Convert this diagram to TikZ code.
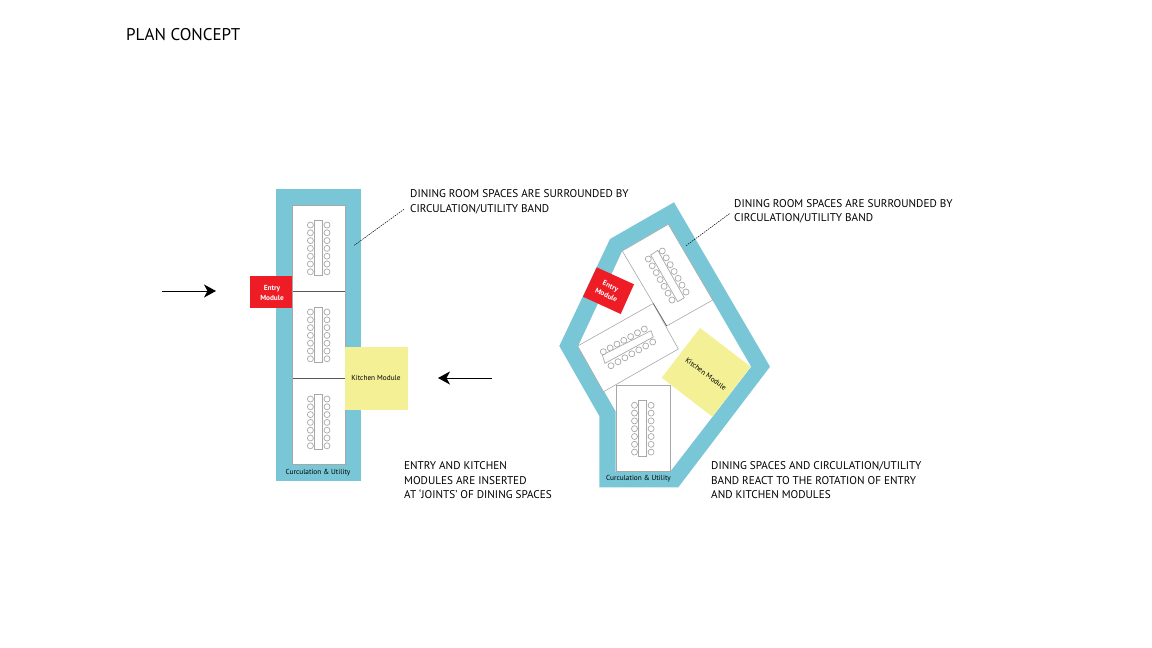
\documentclass[tikz,border=0pt]{standalone}
\usepackage{fontspec}
\setmainfont{PT Sans}
\usetikzlibrary{arrows.meta}
\definecolor{band}{HTML}{79C7D6}
\definecolor{entry}{HTML}{EE1C25}
\definecolor{kitchen}{HTML}{F3F096}
\definecolor{rule}{HTML}{A8A8A8}
\tikzset{
 x=1pt,y=-1pt,
 bandshape/.style={fill=band,draw=none},
 room/.style={draw=rule,line width=0.6pt,fill=white},
 tabletop/.style={draw=rule,line width=0.7pt,fill=white},
 chair/.style={draw=rule,line width=0.7pt,fill=white},
 note/.style={font=\fontsize{11.2}{14.6}\selectfont,align=left,anchor=north west,inner sep=0pt},
 mod/.style={font=\fontsize{7.3}{10}\selectfont,align=center,inner sep=0pt},
 modw/.style={font=\fontsize{7.3}{10}\selectfont\bfseries,align=center,inner sep=0pt,text=white},
 leader/.style={draw=black,line width=0.5pt,dash pattern=on 1.5pt off 1pt},
 flow/.style={draw=black,line width=1pt,-{Stealth[length=12pt,width=13pt,inset=3.5pt]}},
}
\newcommand{\vtable}[3]{% cx, top, bottom
 \draw[tabletop] (#1-4,#2) rectangle (#1+4,#3);
 \foreach \i in {0,...,6}{
  \draw[chair] (#1-8.3,#2+5+\i*7.8) circle (3.0);
  \draw[chair] (#1+8.3,#2+5+\i*7.8) circle (3.0);
 }}
\newcommand{\rowchairs}[4]{% x0,y0,x1,y1
 \foreach \i in {0,...,6}{
  \draw[chair] ({#1+(#3-#1)*\i/6},{#2+(#4-#2)*\i/6}) circle (3.0);
 }}
\begin{document}
\begin{tikzpicture}
\useasboundingbox (0,0) rectangle (1152,648);
\node[inner sep=0pt,anchor=west,font=\fontsize{17}{20}\selectfont] (title) at (126,35) {PLAN CONCEPT};

% left plan
\fill[bandshape] (276,189) rectangle (361,481);
\draw[room] (292.5,205.5) rectangle (345.3,291);
\draw[room] (292.5,291) rectangle (345.3,378.3);
\draw[room] (292.5,378.3) rectangle (345.3,464);
\draw[black!65,line width=0.6pt] (292.5,291) -- (345.3,291) (292.5,378.3) -- (345.3,378.3);
\vtable{318.7}{220}{275.7}
\vtable{318.7}{307}{362.7}
\vtable{318.7}{394}{449.3}
\fill[entry] (250,275.7) rectangle (292.3,307.7);
\node[modw] (e1) at (272,293) {Entry\\Module};
\fill[kitchen] (345,346.7) rectangle (408,409.7);
\node[mod] (k1) at (376,377.5) {Kitchen Module};
\node[mod] (c1) at (318,472.5) {Curculation \& Utility};
\coordinate (l1a) at (354.3,245.3);
\coordinate (l1b) at (404,209.3);
\draw[leader] (l1a) -- (l1b);
\node[note] (n1) at (410,189.5) {DINING ROOM SPACES ARE SURROUNDED BY\\CIRCULATION/UTILITY BAND};
\node[note] (n2) at (404,461.5) {ENTRY AND KITCHEN\\MODULES ARE INSERTED\\AT ‘JOINTS’ OF DINING SPACES};

% arrows
\coordinate (a1) at (162,291); \coordinate (a2) at (216,291);
\coordinate (a3) at (492,378); \coordinate (a4) at (438,378);
\draw[flow] (a1) -- (a2);
\draw[flow] (a3) -- (a4);

% right plan
\fill[bandshape] (674,202.3) -- (610,239) -- (559.3,346) -- (599.3,416) -- (599.3,487.3) -- (678.3,487.3) -- (770,366.7) -- cycle;
\fill[white] (668.3,224.3) -- (622.3,251) -- (578.3,346) -- (615.5,411) -- (615.5,471.7) -- (670,471.7) -- (751,366.7) -- cycle;
\draw[room] (622.3,251) -- (668.3,224.3) -- (712.7,300) -- (666.7,326) -- cycle;
\draw[room] (577.7,346) -- (653.2,303.5) -- (678.3,349) -- (603.5,391.7) -- cycle;
\draw[black!60,line width=0.6pt] (653.2,303.5) -- (666.7,326);
\draw[room] (616,385) rectangle (670,471.7);
% rotated table 1
\draw[tabletop] (650.7,255) -- (657.7,250.3) -- (684.3,297.7) -- (677.7,301.7) -- cycle;
\rowchairs{662.3}{251}{686}{292}
\rowchairs{648.3}{259}{672}{300}
% rotated table 2
\draw[tabletop] (602.3,355) -- (651,330.7) -- (653.3,337) -- (605,363.3) -- cycle;
\rowchairs{603.3}{351.7}{644.3}{329}
\rowchairs{611}{365.7}{652.7}{342}
% bottom table
\vtable{642.8}{400.3}{456.7}
\fill[entry] (596.7,267.3) -- (634,284.3) -- (620.7,314) -- (583,296.7) -- cycle;
\node[modw,rotate=-25] (e2) at (608.5,290.5) {Entry\\Module};
\fill[kitchen] (700,328) -- (750.7,366.7) -- (712.3,416.7) -- (661.7,377.7) -- cycle;
\node[mod,rotate=-37] (k2) at (706,374) {Kitchen Module};
\node[mod] (c2) at (638.5,479) {Curculation \& Utility};
\coordinate (l2a) at (686,245.7);
\coordinate (l2b) at (730,213.3);
\draw[leader] (l2a) -- (l2b);
\node[note] (n3) at (734,199) {DINING ROOM SPACES ARE SURROUNDED BY\\CIRCULATION/UTILITY BAND};
\node[note] (n4) at (711,461.5) {DINING SPACES AND CIRCULATION/UTILITY\\BAND REACT TO THE ROTATION OF ENTRY\\AND KITCHEN MODULES};
\end{tikzpicture}
\end{document}
